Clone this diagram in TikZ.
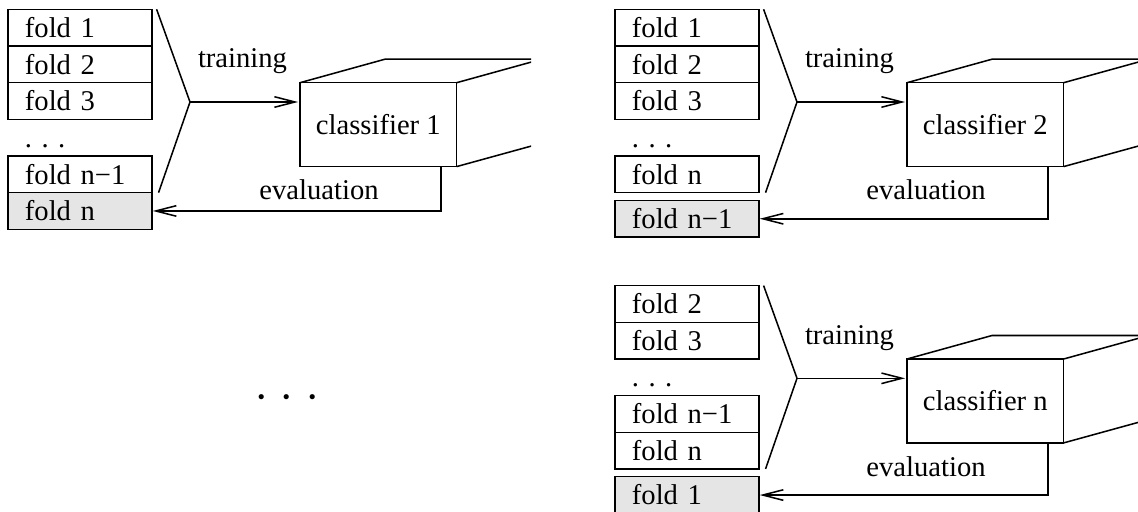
\documentclass[tikz,border=0pt]{standalone}
\usepackage{fontspec}
\setmainfont{Liberation Serif}
\usetikzlibrary{arrows.meta, positioning}

\begin{document}
\begin{tikzpicture}[
    x=0.36pt, y=-0.36pt, line width=0.55pt, font=\fontsize{10.3}{12.4}\selectfont,
    fold/.style={rectangle, draw, anchor=north west, minimum height=13.2pt,
                 text width=39.6pt, inner xsep=6.1pt, inner ysep=0pt, outer sep=0pt,
                 align=left, text height=7pt, text depth=0pt},
    gap/.style={fold, draw=none},
    test/.style={fold, fill=gray!20},
    clsbox/.style={rectangle, draw, anchor=north west, minimum width=56.4pt,
                   minimum height=30.2pt, inner sep=0pt, outer sep=0pt},
    lbl/.style={anchor=base},
    barb/.style={-{Straight Barb[length=7.4pt, width=3.8pt]}},
  ]
  \useasboundingbox (0,0) rectangle (1138,512);
  \clip (0,0) rectangle (1138,512);

  % round 1: fold n held out
  \node[fold] (a1) at (8,9.3) {fold 1};
  \node[fold, below=0pt of a1] (a2) {fold 2};
  \node[fold, below=0pt of a2] (a3) {fold 3};
  \node[gap, below=0pt of a3] (a4) {.\hspace{3.4pt}.\hspace{3.4pt}.};
  \node[fold, below=0pt of a4] (a5) {fold n−1};
  \node[test, below=0pt of a5] (a6) {fold n};
  \coordinate (ka) at (190,102);
  \draw ([xshift=1.7pt]a1.north east) -- (ka) -- ([xshift=2.4pt]a5.south east);
  \node[clsbox] (ca) at (300,82.7) {classifier 1};
  \draw[barb] (ka) -- ([xshift=-0.7pt]ka -| ca.west);
  \begin{scope}
    \clip (0,0) rectangle (531,260);
    \draw (ca.north west) -- ++(85,-23.5) -- ++(156.7,0) -- ++(0,84) -- (ca.south east);
    \draw (ca.north east) -- ++(85,-23.5);
  \end{scope}
  \draw[barb] ([xshift=-5.65pt]ca.south east) |- ([xshift=0.3pt]a6.east);
  \node[lbl] at (242.5,68) {training};
  \node[lbl] at (319,200) {evaluation};

  % round 2: fold n-1 held out
  \begin{scope}[shift={(607,0)}]
    \node[fold] (b1) at (8,9.3) {fold 1};
    \node[fold, below=0pt of b1] (b2) {fold 2};
    \node[fold, below=0pt of b2] (b3) {fold 3};
    \node[gap, below=0pt of b3] (b4) {.\hspace{3.4pt}.\hspace{3.4pt}.};
    \node[fold, below=0pt of b4] (b5) {fold n};
    \node[test, below=2.8pt of b5] (b6) {fold n−1};
    \coordinate (kb) at (190,102);
    \draw ([xshift=1.7pt]b1.north east) -- (kb) -- ([xshift=2.4pt]b5.south east);
    \node[clsbox] (cb) at (300,82.7) {classifier 2};
    \draw[barb] (kb) -- ([xshift=-0.7pt]kb -| cb.west);
    \begin{scope}
      \clip (0,0) rectangle (531,260);
      \draw (cb.north west) -- ++(85,-23.5) -- ++(156.7,0) -- ++(0,84) -- (cb.south east);
      \draw (cb.north east) -- ++(85,-23.5);
    \end{scope}
    \draw[barb] ([xshift=-5.65pt]cb.south east) |- ([xshift=0.3pt]b6.east);
    \node[lbl] at (242.5,68) {training};
    \node[lbl] at (319,200) {evaluation};
  \end{scope}

  % round n: fold 1 held out
  \begin{scope}[shift={(607,276.3)}]
    \node[fold] (n1) at (8,9.3) {fold 2};
    \node[fold, below=0pt of n1] (n2) {fold 3};
    \node[gap, below=0pt of n2] (n3) {.\hspace{3.4pt}.\hspace{3.4pt}.};
    \node[fold, below=0pt of n3] (n4) {fold n−1};
    \node[fold, below=0pt of n4] (n5) {fold n};
    \node[test, below=2.8pt of n5] (n6) {fold 1};
    \coordinate (kn) at (190,102);
    \draw ([xshift=1.7pt]n1.north east) -- (kn) -- ([xshift=2.4pt]n5.south east);
    \node[clsbox] (cn) at (300,82.7) {classifier n};
    \draw[barb] (kn) -- ([xshift=-0.7pt]kn -| cn.west);
    \begin{scope}
      \clip (0,0) rectangle (531,260);
      \draw (cn.north west) -- ++(85,-23.5) -- ++(156.7,0) -- ++(0,84) -- (cn.south east);
      \draw (cn.north east) -- ++(85,-23.5);
    \end{scope}
    \draw[barb] ([xshift=-5.65pt]cn.south east) |- ([xshift=0.3pt]n6.east);
    \node[lbl] at (242.5,68) {training};
    \node[lbl] at (319,200) {evaluation};
  \end{scope}

  \node (more) at (287,403) {\fontsize{15.6}{18}\selectfont · · ·};
\end{tikzpicture}
\end{document}
